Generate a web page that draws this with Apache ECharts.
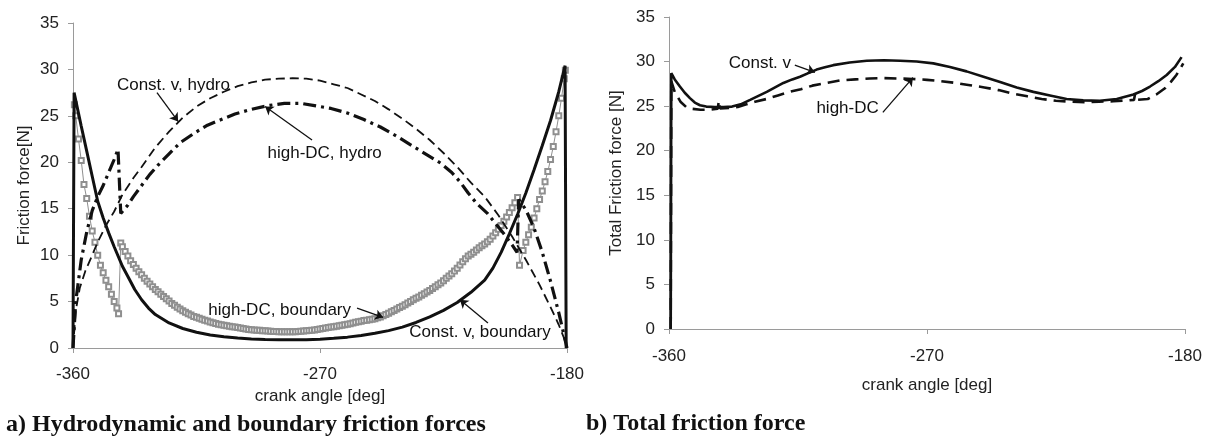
<!DOCTYPE html>
<html>
<head>
<meta charset="utf-8">
<script src="https://cdn.jsdelivr.net/npm/echarts@6/dist/echarts.min.js"></script>
<style>
  html, body { margin: 0; padding: 0; background: #ffffff; }
  #chart { width: 1210px; height: 443px; }
</style>
</head>
<body>
<div id="chart"></div>
<script>
// ---- Panel a: hydrodynamic and boundary friction, [crank angle deg, force N] ----
const constVBoundary = [
  [-360, 0], [-359.6, 27.5], [-357, 23.9], [-355, 21.2], [-353, 18.5], [-351, 15.8], [-349, 14.0],
  [-347, 12.4], [-345, 10.9], [-342, 8.8], [-340, 7.7], [-337.5, 6.3], [-335, 5.2], [-332.5, 4.3],
  [-330, 3.6], [-325, 2.7], [-320, 2.1], [-315, 1.7], [-310, 1.4], [-305, 1.22], [-300, 1.08],
  [-295, 0.98], [-290, 0.92], [-285, 0.88], [-280, 0.88], [-275, 0.9], [-270, 0.95], [-265, 1.04],
  [-260, 1.17], [-255, 1.35], [-250, 1.58], [-245, 1.87], [-240, 2.25], [-235, 2.75], [-230, 3.35],
  [-225, 4.05], [-220, 4.9], [-215, 6.0], [-210, 7.3], [-207, 8.6], [-204, 10.3], [-201, 12.3],
  [-198, 14.4], [-195, 16.7], [-192, 19.2], [-189, 21.8], [-186, 24.5], [-183, 27.6], [-180.7, 30.4],
  [-180.3, 0]
];

const highDcBoundary = [
  [-360, 0], [-359.5, 26.2], [-359, 25.0], [-358, 22.5], [-357, 20.2], [-356, 17.6], [-355, 16.1],
  [-354, 14.2], [-353, 12.6], [-352, 11.4], [-351, 10.0], [-350, 8.9], [-349, 8.1], [-348, 7.3],
  [-347, 6.6], [-346, 5.8], [-345, 5.0], [-344, 4.3], [-343.4, 3.7], [-342.6, 11.3], [-342, 10.9],
  [-341, 10.4], [-340, 9.9], [-339, 9.4], [-338, 9.0], [-337, 8.6], [-336, 8.2], [-335, 7.9],
  [-334, 7.5], [-333, 7.2], [-332, 6.9], [-331, 6.6], [-330, 6.3], [-329, 6.05], [-328, 5.8],
  [-327, 5.55], [-326, 5.3], [-325, 5.05], [-324, 4.8], [-323, 4.6], [-322, 4.4], [-321, 4.2],
  [-320, 4.0], [-319, 3.85], [-318, 3.7], [-317, 3.55], [-316, 3.4], [-315, 3.3], [-314, 3.2],
  [-313, 3.1], [-312, 3.0], [-311, 2.9], [-310, 2.8], [-309, 2.72], [-308, 2.65], [-307, 2.57],
  [-306, 2.5], [-305, 2.45], [-304, 2.4], [-303, 2.35], [-302, 2.3], [-301, 2.25], [-300, 2.2],
  [-299, 2.15], [-298, 2.1], [-297, 2.05], [-296, 2.0], [-295, 1.97], [-294, 1.95], [-293, 1.92],
  [-292, 1.9], [-291, 1.87], [-290, 1.85], [-289, 1.82], [-288, 1.8], [-287, 1.79], [-286, 1.78],
  [-285, 1.76], [-284, 1.75], [-283, 1.75], [-282, 1.75], [-281, 1.75], [-280, 1.75], [-279, 1.76],
  [-278, 1.78], [-277, 1.8], [-276, 1.82], [-275, 1.85], [-274, 1.88], [-273, 1.91], [-272, 1.95],
  [-271, 2.0], [-270, 2.05], [-269, 2.1], [-268, 2.15], [-267, 2.2], [-266, 2.25], [-265, 2.3],
  [-264, 2.35], [-263, 2.4], [-262, 2.45], [-261, 2.5], [-260, 2.55], [-259, 2.62], [-258, 2.7],
  [-257, 2.76], [-256, 2.82], [-255, 2.88], [-254, 2.95], [-253, 3.0], [-252, 3.05], [-251, 3.1],
  [-250, 3.15], [-249, 3.25], [-248, 3.35], [-247, 3.47], [-246, 3.6], [-245, 3.75], [-244, 3.9],
  [-243, 4.05], [-242, 4.2], [-241, 4.35], [-240, 4.5], [-239, 4.67], [-238, 4.85], [-237, 5.02],
  [-236, 5.2], [-235, 5.35], [-234, 5.5], [-233, 5.67], [-232, 5.85], [-231, 6.02], [-230, 6.2],
  [-229, 6.4], [-228, 6.6], [-227, 6.8], [-226, 7.0], [-225, 7.25], [-224, 7.5], [-223, 7.75],
  [-222, 8.0], [-221, 8.3], [-220, 8.6], [-219, 8.95], [-218, 9.3], [-217, 9.6], [-216, 9.9],
  [-215, 10.1], [-214, 10.3], [-213, 10.55], [-212, 10.8], [-211, 11.0], [-210, 11.2], [-209, 11.45],
  [-208, 11.7], [-207, 12.05], [-206, 12.4], [-205, 12.8], [-204, 13.2], [-203, 13.65], [-202, 14.1],
  [-201, 14.6], [-200, 15.1], [-199, 15.65], [-198, 16.2], [-197.3, 8.9], [-196, 10.5], [-195, 11.4],
  [-194, 12.2], [-193, 13.0], [-192, 14.0], [-191, 15.0], [-190, 16.0], [-189, 16.9], [-188, 17.9],
  [-187, 19.0], [-186, 20.3], [-185, 21.7], [-184, 23.3], [-183, 25.0], [-182, 26.9], [-181, 29.0],
  [-180.6, 29.9], [-180.3, 0]
];

const constVHydro = [
  [-360, 0], [-359, 4.0], [-357.5, 6.5], [-355.5, 8.3], [-353, 10.0], [-351, 11.4], [-348, 13.2],
  [-345, 14.7], [-342, 16.5], [-338, 18.3], [-335, 19.5], [-330, 21.6], [-325, 23.3], [-320, 24.8],
  [-315, 26.0], [-310, 26.9], [-305, 27.6], [-300, 28.2], [-295, 28.6], [-290, 28.9], [-285, 29.0],
  [-280, 29.05], [-275, 29.0], [-270, 28.8], [-265, 28.4], [-260, 28.0], [-255, 27.3], [-250, 26.6],
  [-245, 25.7], [-240, 24.7], [-235, 23.6], [-230, 22.4], [-225, 21.0], [-220, 19.5], [-215, 17.8],
  [-210, 16.3], [-205, 14.3], [-200, 12.0], [-195, 9.5], [-190, 6.8], [-186, 4.4], [-183, 2.5],
  [-181, 1.0], [-180, 0]
];

const highDcHydro = [
  [-360, 0], [-359, 5.0], [-357, 9.5], [-355, 12.5], [-353, 14.8], [-351, 16.3], [-349, 17.5],
  [-347, 18.9], [-345, 20.3], [-343.6, 21.4], [-342.6, 14.5], [-340, 15.4], [-338, 16.3], [-335, 17.5],
  [-332, 18.7], [-329, 19.7], [-325, 20.9], [-321, 22.1], [-316, 23.1], [-311, 24.0], [-306, 24.6],
  [-301, 25.2], [-295, 25.7], [-289, 26.1], [-283, 26.35], [-277, 26.35], [-272, 26.1], [-266, 25.8],
  [-260, 25.3], [-254, 24.6], [-248, 23.8], [-242, 22.8], [-236, 21.7], [-231, 20.8], [-226, 19.9],
  [-222, 18.9], [-219, 17.9], [-216, 16.7], [-213, 15.6], [-209, 14.5], [-206, 13.4], [-203, 12.3],
  [-200, 11.1], [-198.2, 10.3], [-197.6, 16.0], [-195, 14.9], [-192, 12.9], [-189, 10.3], [-186, 7.2],
  [-183, 3.8], [-180, 0]
];

// ---- Panel b: total friction ----
const constVTotal = [
  [-359.4, 0], [-359.2, 28.7], [-358, 28.0], [-356.2, 27.2], [-354.5, 26.5], [-352.7, 25.9],
  [-351, 25.4], [-349.2, 25.1], [-347, 24.95], [-344, 24.9], [-341, 24.9], [-338, 24.95],
  [-335, 25.2], [-331.7, 25.7], [-328.8, 26.15], [-325.9, 26.6], [-323, 27.1], [-320.1, 27.6],
  [-317, 28.0], [-314.3, 28.3], [-311.4, 28.7], [-308.5, 29.1], [-305.6, 29.35], [-302.7, 29.6],
  [-297, 29.9], [-291, 30.1], [-285, 30.15], [-279.4, 30.1], [-273.6, 30.0], [-267.8, 29.8],
  [-262, 29.4], [-256.2, 28.9], [-250.3, 28.3], [-244.5, 27.7], [-238.7, 27.1], [-232.9, 26.6],
  [-227.1, 26.2], [-221.3, 25.8], [-215.5, 25.65], [-209.7, 25.6], [-203.8, 25.8], [-198, 26.3],
  [-195, 26.7], [-192.2, 27.2], [-189.3, 27.8], [-186.4, 28.5], [-183.5, 29.4], [-181.2, 30.5]
];

const highDcTotal = [
  [-359.4, 0], [-359.2, 27.8], [-358, 26.6], [-356, 25.5], [-354, 24.9], [-352, 24.7], [-349, 24.6],
  [-346, 24.6], [-343, 24.7], [-342.6, 25.6], [-342.2, 24.75], [-339, 24.8], [-336, 24.9],
  [-333, 25.2], [-330, 25.5], [-326, 25.8], [-322, 26.2], [-318, 26.6], [-314, 26.9], [-310, 27.3],
  [-305, 27.6], [-300, 27.9], [-295, 28.0], [-290, 28.1], [-285, 28.15], [-280, 28.1], [-275, 28.05],
  [-270, 27.95], [-265, 27.8], [-260, 27.6], [-255, 27.35], [-250, 27.1], [-245, 26.8], [-240, 26.4],
  [-235, 26.1], [-230, 25.8], [-225, 25.6], [-220, 25.5], [-215, 25.45], [-210, 25.5], [-205, 25.55],
  [-200, 25.65], [-197.8, 25.7], [-197.4, 26.4], [-197, 25.7], [-193, 25.8], [-190, 26.3],
  [-187, 27.0], [-185, 27.7], [-183, 28.5], [-181.3, 29.4], [-180.6, 29.8]
];

// Axis ranges and tick spacing
const angleRange = [-360, -180];
const angleStep = 90;
const forceRange = [0, 35];
const forceStep = 5;

// Callout texts and arrows, in data units: [text, x, y] and [x1, y1, x2, y2]
const leftNotes = [
  ['Const. v, hydro', -323.4, 28.3],
  ['high-DC, hydro', -268.3, 21.0],
  ['high-DC, boundary', -284.7, 4.1],
  ['Const. v, boundary', -211.7, 1.7]
];
const leftArrows = [
  [-329.4, 27.5, -321.7, 24.4],
  [-272.9, 22.4, -290.0, 26.0],
  [-256.5, 4.3, -247.0, 3.3],
  [-208.8, 2.7, -219.0, 5.2]
];
const rightNotes = [
  ['Const. v', -328.3, 29.8],
  ['high-DC', -297.7, 24.8]
];
const rightArrows = [
  [-316.1, 29.6, -309.1, 28.8],
  [-285.4, 24.3, -274.9, 28.2]
];

const FONT = '"Liberation Sans", Arial, Helvetica, sans-serif';
const SERIF = '"Liberation Serif", "Times New Roman", serif';
const INK = '#111111';
const AXIS_GREY = '#9a9a9a';

function xAxisFor(gridIndex, nameGap, labelMargin) {
  return {
    gridIndex, type: 'value', min: angleRange[0], max: angleRange[1], interval: angleStep,
    name: 'crank angle [deg]', nameLocation: 'middle', nameGap,
    nameTextStyle: { fontFamily: FONT, fontSize: 17, color: '#222' },
    axisLine: { show: true, lineStyle: { color: AXIS_GREY, width: 1 } },
    axisTick: { show: true, length: 5, lineStyle: { color: AXIS_GREY } },
    axisLabel: { fontFamily: FONT, fontSize: 17, color: '#222', margin: labelMargin },
    splitLine: { show: false }
  };
}

function yAxisFor(gridIndex, name, nameGap) {
  return {
    gridIndex, type: 'value', min: forceRange[0], max: forceRange[1], interval: forceStep,
    name, nameLocation: 'middle', nameGap, nameRotate: 90,
    nameTextStyle: { fontFamily: FONT, fontSize: 17, color: '#222' },
    axisLine: { show: true, lineStyle: { color: AXIS_GREY, width: 1 } },
    axisTick: { show: true, length: 5, lineStyle: { color: AXIS_GREY } },
    axisLabel: { fontFamily: FONT, fontSize: 17, color: '#222', margin: 14 },
    splitLine: { show: false }
  };
}

function notesToPoints(notes) {
  return notes.map(([text, x, y]) => ({
    coord: [x, y], value: text, symbol: 'rect', symbolSize: 1,
    itemStyle: { color: 'rgba(0,0,0,0)' },
    label: { show: true, position: 'inside', formatter: text, fontFamily: FONT, fontSize: 17, color: INK }
  }));
}

function arrowsToLines(arrows) {
  return arrows.map(([x1, y1, x2, y2]) => [{ coord: [x1, y1] }, { coord: [x2, y2] }]);
}

function callouts(notes, arrows) {
  return {
    markLine: {
      silent: true, animation: false, symbol: ['none', 'arrow'], symbolSize: 8,
      label: { show: false },
      lineStyle: { color: INK, width: 1.3, type: 'solid' },
      emphasis: { disabled: true },
      data: arrowsToLines(arrows)
    },
    markPoint: {
      silent: true, animation: false,
      data: notesToPoints(notes)
    }
  };
}

// Points lying on the zero line carry no marker (they sit under the vertical solid edges)
function withMarkers(points) {
  return points.map(([x, y]) => (y === 0 ? { value: [x, y], symbol: 'none' } : [x, y]));
}

const lineBase = { type: 'line', showSymbol: false, animation: false, silent: true, z: 3 };

const option = {
  backgroundColor: '#ffffff',
  animation: false,
  title: [
    {
      text: 'a) Hydrodynamic and boundary friction forces', left: 6, top: 413, padding: 0,
      textStyle: { fontFamily: SERIF, fontWeight: 'bold', fontSize: 24, color: '#111' }
    },
    {
      text: 'b) Total friction force', left: 586, top: 412, padding: 0,
      textStyle: { fontFamily: SERIF, fontWeight: 'bold', fontSize: 24, color: '#111' }
    }
  ],
  grid: [
    { left: 73, top: 23, width: 494, height: 325 },
    { left: 669, top: 17, width: 516, height: 312 }
  ],
  xAxis: [xAxisFor(0, 38, 18), xAxisFor(1, 48, 19)],
  yAxis: [yAxisFor(0, 'Friction force[N]', 40), yAxisFor(1, 'Total Friction force [N]', 44)],
  series: [
    Object.assign({}, lineBase, {
      name: 'high-DC, boundary', xAxisIndex: 0, yAxisIndex: 0, data: withMarkers(highDcBoundary),
      showSymbol: true, showAllSymbol: true, symbol: 'emptyRect', symbolSize: 5,
      itemStyle: { color: '#8f8f8f', borderWidth: 1 },
      lineStyle: { color: '#8f8f8f', width: 1 }, z: 2
    }),
    Object.assign({}, lineBase, {
      name: 'Const. v, hydro', xAxisIndex: 0, yAxisIndex: 0, data: constVHydro,
      lineStyle: { color: INK, width: 1.8, type: [9, 5] }
    }, callouts(leftNotes, leftArrows)),
    Object.assign({}, lineBase, {
      name: 'high-DC, hydro', xAxisIndex: 0, yAxisIndex: 0, data: highDcHydro,
      lineStyle: { color: INK, width: 3.2, type: [13, 5, 3, 5] }
    }),
    Object.assign({}, lineBase, {
      name: 'Const. v, boundary', xAxisIndex: 0, yAxisIndex: 0, data: constVBoundary,
      lineStyle: { color: INK, width: 3 }, z: 4
    }),
    Object.assign({}, lineBase, {
      name: 'high-DC', xAxisIndex: 1, yAxisIndex: 1, data: highDcTotal,
      lineStyle: { color: INK, width: 2.6, type: [12, 7] }
    }),
    Object.assign({}, lineBase, {
      name: 'Const. v', xAxisIndex: 1, yAxisIndex: 1, data: constVTotal,
      lineStyle: { color: INK, width: 2.6 }, z: 4
    }, callouts(rightNotes, rightArrows))
  ]
};

const chart = echarts.init(document.getElementById('chart'), null, { renderer: 'canvas' });
chart.setOption(option);
</script>
</body>
</html>
